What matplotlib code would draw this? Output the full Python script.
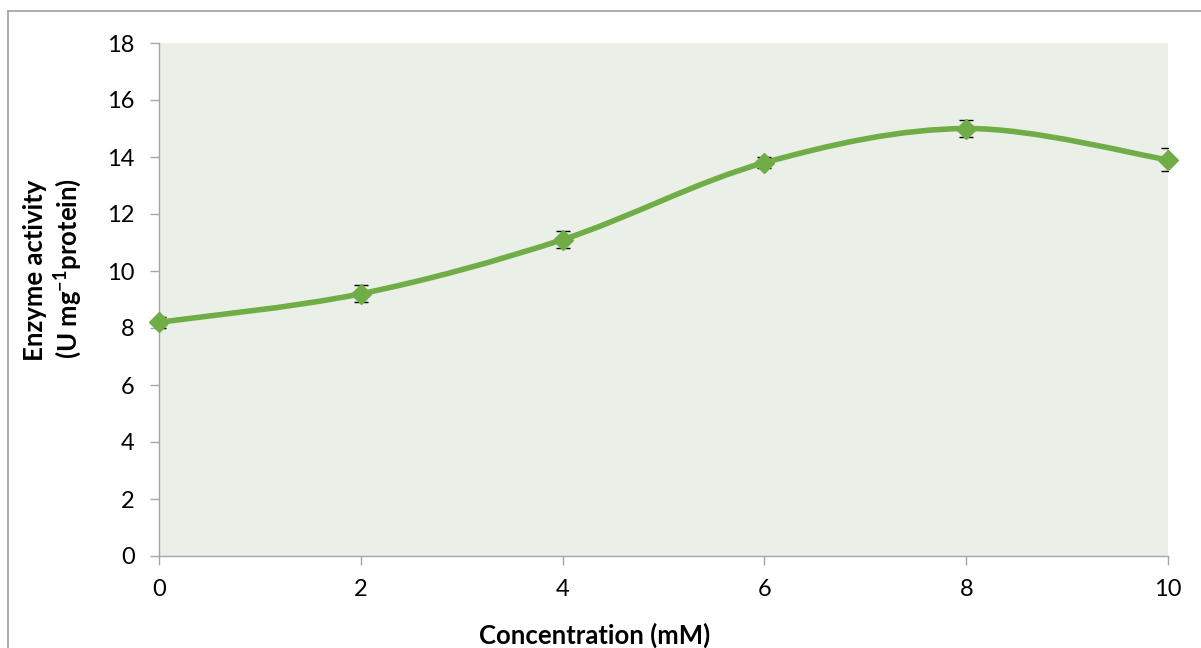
import numpy as np
import matplotlib
matplotlib.use("Agg")
import matplotlib.pyplot as plt
from matplotlib.path import Path
from matplotlib.patches import PathPatch
from matplotlib.lines import Line2D

concentration = [0, 2, 4, 6, 8, 10]
activity = [8.2, 9.2, 11.1, 13.8, 15.0, 13.9]
activity_err = [0.2, 0.3, 0.3, 0.2, 0.3, 0.4]
x_ticks = [0, 2, 4, 6, 8, 10]
y_ticks = [0, 2, 4, 6, 8, 10, 12, 14, 16, 18]

FONT = "Lato"
plt.rcParams["font.family"] = [FONT, "DejaVu Sans"]
plt.rcParams["mathtext.fontset"] = "custom"
plt.rcParams["mathtext.rm"] = FONT
plt.rcParams["mathtext.bf"] = FONT + ":bold"

LINE_COLOR = "#70AD47"
AXIS_COLOR = "#A6A6A6"
W, H = 1201, 648

fig = plt.figure(figsize=(W / 100, H / 100), dpi=100)
ax = fig.add_axes([159 / W, 92 / H, 1009 / W, 513 / H])
ax.set_facecolor("#EAEFE8")

# smooth curve through the points (Catmull-Rom as cubic Bezier segments)
xs = np.array(concentration, float)
ys = np.array(activity, float)
verts = [(xs[0], ys[0])]
codes = [Path.MOVETO]
n = len(xs)
for i in range(n - 1):
    p0 = np.array([xs[max(i - 1, 0)], ys[max(i - 1, 0)]])
    p1 = np.array([xs[i], ys[i]])
    p2 = np.array([xs[i + 1], ys[i + 1]])
    p3 = np.array([xs[min(i + 2, n - 1)], ys[min(i + 2, n - 1)]])
    c1 = p1 + (p2 - p0) / 6.0
    c2 = p2 - (p3 - p1) / 6.0
    verts += [tuple(c1), tuple(c2), tuple(p2)]
    codes += [Path.CURVE4] * 3
curve = PathPatch(Path(verts, codes), facecolor="none", edgecolor=LINE_COLOR,
                  lw=4.0, capstyle="round", joinstyle="round", zorder=3)
ax.add_patch(curve)

ax.errorbar(concentration, activity, yerr=activity_err, fmt="none",
            ecolor="black", elinewidth=1.0, capsize=5, capthick=1.0, zorder=4)
ax.plot(concentration, activity, linestyle="none", marker="D", markersize=10.5,
        color=LINE_COLOR, markeredgecolor=LINE_COLOR, zorder=5, clip_on=False)

ax.set_xlim(0, 10)
ax.set_ylim(0, 18)
ax.set_xticks(x_ticks)
ax.set_yticks(y_ticks)
ax.set_xticklabels([str(v) for v in x_ticks])
ax.set_yticklabels([str(v) for v in y_ticks])
for side in ("top", "right"):
    ax.spines[side].set_visible(False)
for side in ("left", "bottom"):
    ax.spines[side].set_color(AXIS_COLOR)
    ax.spines[side].set_linewidth(1.0)
ax.tick_params(axis="both", direction="out", length=6.5, width=1.0,
               color=AXIS_COLOR, labelsize=17, labelcolor="black")
ax.tick_params(axis="x", pad=10)
ax.tick_params(axis="y", pad=11)

fig.text(595 / W, 1 - 635 / H, "Concentration (mM)", fontsize=18.5,
         fontweight="bold", ha="center", va="center")
fig.text(35 / W, 1 - 270 / H, "Enzyme activity", rotation=90,
         fontsize=18.5, fontweight="bold", ha="center", va="center")
fig.text(68 / W, 1 - 268 / H, r"(U mg$^{\mathbf{-1}}$protein)", rotation=90,
         fontsize=18.5, fontweight="bold", ha="center", va="center")

# chart frame
fig.add_artist(Line2D([8 / W, 8 / W], [0, 1 - 11 / H],
                      transform=fig.transFigure, color="#A0A0A0", lw=1.2))
fig.add_artist(Line2D([8 / W, 1], [1 - 11 / H, 1 - 11 / H],
                      transform=fig.transFigure, color="#A0A0A0", lw=1.2))

fig.savefig("out.png", dpi=100, facecolor="white")
